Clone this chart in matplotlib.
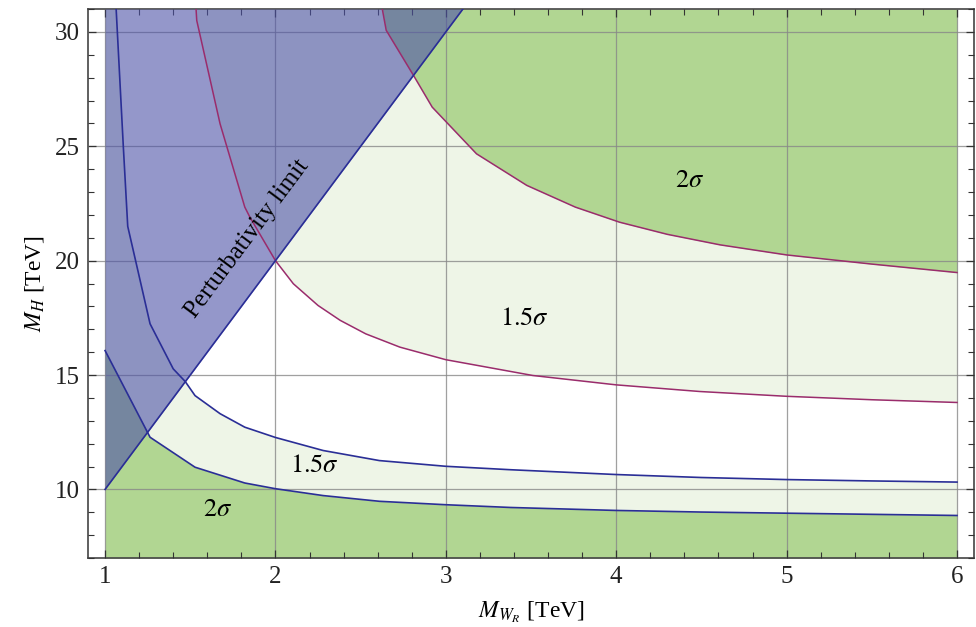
"""
Sensitivity regions in the (M_WR, M_H) plane with the perturbativity limit.
"""

import numpy as np
import matplotlib.pyplot as plt
from matplotlib.ticker import MultipleLocator

plt.rcParams["font.family"] = ["Liberation Serif", "DejaVu Serif"]
plt.rcParams["mathtext.fontset"] = "stix"

# lower set of contours (blue)
BLUE_15_X = [1.0, 1.065, 1.107, 1.133, 1.264, 1.40, 1.47, 1.528, 1.675, 1.82, 2.0,
             2.28, 2.61, 3.0, 3.38, 4.0, 4.5, 5.0, 5.5, 6.0]
BLUE_15_Y = [31.0, 31.0, 25.0, 21.5, 17.24, 15.27, 14.72, 14.1, 13.31, 12.72, 12.27,
             11.70, 11.26, 11.01, 10.86, 10.65, 10.52, 10.43, 10.37, 10.32]
BLUE_2_X = [1.0, 1.264, 1.528, 1.82, 2.0, 2.28, 2.61, 3.0, 3.38, 4.0, 4.5, 5.0, 5.5, 6.0]
BLUE_2_Y = [16.07, 12.28, 10.97, 10.28, 10.03, 9.73, 9.48, 9.33, 9.21, 9.08, 9.01, 8.96,
            8.91, 8.86]

# upper set of contours (purple)
PURP_15_X = [1.534, 1.538, 1.675, 1.82, 1.85, 2.0, 2.105, 2.25, 2.38, 2.53, 2.73, 3.0,
             3.51, 4.0, 4.49, 5.0, 5.5, 6.0]
PURP_15_Y = [31.0, 30.5, 25.98, 22.34, 21.9, 20.0, 18.99, 18.04, 17.39, 16.80, 16.22,
             15.67, 14.98, 14.57, 14.28, 14.07, 13.92, 13.80]
PURP_2_X = [2.627, 2.65, 2.81, 2.92, 3.18, 3.475, 3.76, 4.02, 4.30, 4.61, 5.0, 5.5, 6.0]
PURP_2_Y = [31.0, 30.07, 28.1, 26.71, 24.67, 23.29, 22.34, 21.68, 21.15, 20.69, 20.25,
            19.85, 19.48]

# perturbativity limit M_H = 10 M_WR
PERT_X = [1.0, 3.1]
PERT_Y = [10.0, 31.0]

Y_MIN, Y_MAX = 7.0, 31.0

GREEN = "#b1d692"
LIGHT_GREEN = "#eef5e7"
LAVENDER = (0.30, 0.32, 0.66)
BLUE = "#2a2e96"
PURPLE = "#9a2c6c"


def main():
    fig = plt.figure(figsize=(9.76, 6.27), dpi=100)
    ax = fig.add_axes([0.0902, 0.110, 0.9078, 0.8756])

    # shaded regions
    ax.fill_between(BLUE_15_X, Y_MIN, BLUE_15_Y, color=LIGHT_GREEN, lw=0, zorder=1)
    ax.fill_between(BLUE_2_X, Y_MIN, BLUE_2_Y, color=GREEN, lw=0, zorder=2)
    ax.fill_between(PURP_15_X, PURP_15_Y, Y_MAX, color=LIGHT_GREEN, lw=0, zorder=1)
    ax.fill_between(PURP_2_X, PURP_2_Y, Y_MAX, color=GREEN, lw=0, zorder=2)
    ax.fill_between(PERT_X, PERT_Y, Y_MAX, color=LAVENDER, alpha=0.6, lw=0, zorder=3)

    # contour lines
    ax.plot(BLUE_15_X[1:], BLUE_15_Y[1:], color=BLUE, lw=1.2, zorder=5)
    ax.plot(BLUE_2_X, BLUE_2_Y, color=BLUE, lw=1.2, zorder=5)
    ax.plot(PURP_15_X, PURP_15_Y, color=PURPLE, lw=1.1, zorder=5)
    ax.plot(PURP_2_X, PURP_2_Y, color=PURPLE, lw=1.1, zorder=5)
    ax.plot(PERT_X, PERT_Y, color=BLUE, lw=1.2, zorder=5)

    ax.text(4.43, 23.5, r"$2\sigma$", fontsize=19, ha="center", va="center", zorder=6)
    ax.text(3.46, 17.47, r"$1.5\sigma$", fontsize=19, ha="center", va="center", zorder=6)
    ax.text(2.23, 11.04, r"$1.5\sigma$", fontsize=19, ha="center", va="center", zorder=6)
    ax.text(1.66, 9.08, r"$2\sigma$", fontsize=19, ha="center", va="center", zorder=6)
    ax.text(1.836, 20.97, "Perturbativity limit", fontsize=18, rotation=53.3,
            rotation_mode="anchor", ha="center", va="center", zorder=6)

    ax.set_xlim(0.90, 6.10)
    ax.set_ylim(Y_MIN, Y_MAX)
    ax.xaxis.set_major_locator(MultipleLocator(1))
    ax.xaxis.set_minor_locator(MultipleLocator(0.2))
    ax.yaxis.set_major_locator(MultipleLocator(5))
    ax.yaxis.set_minor_locator(MultipleLocator(1))
    ax.set_yticks([10, 15, 20, 25, 30])

    ax.grid(True, which="major", color="#888888", lw=0.9, alpha=0.8, zorder=4)
    ax.set_axisbelow(False)

    ax.tick_params(which="both", direction="in", top=True, right=True,
                   labelsize=18, colors="#333333", labelcolor="#222222")
    ax.tick_params(which="major", length=6, width=0.9, pad=6)
    ax.tick_params(which="minor", length=4, width=0.8)
    for sp in ax.spines.values():
        sp.set_color("#444444")
        sp.set_linewidth(1.2)

    ax.set_xlabel(r"$M_{W_R}$ [TeV]", fontsize=17, labelpad=8)
    ax.set_ylabel(r"$M_H$ [TeV]", fontsize=17, labelpad=6)

    fig.savefig("out.png", dpi=100)


if __name__ == "__main__":
    main()
